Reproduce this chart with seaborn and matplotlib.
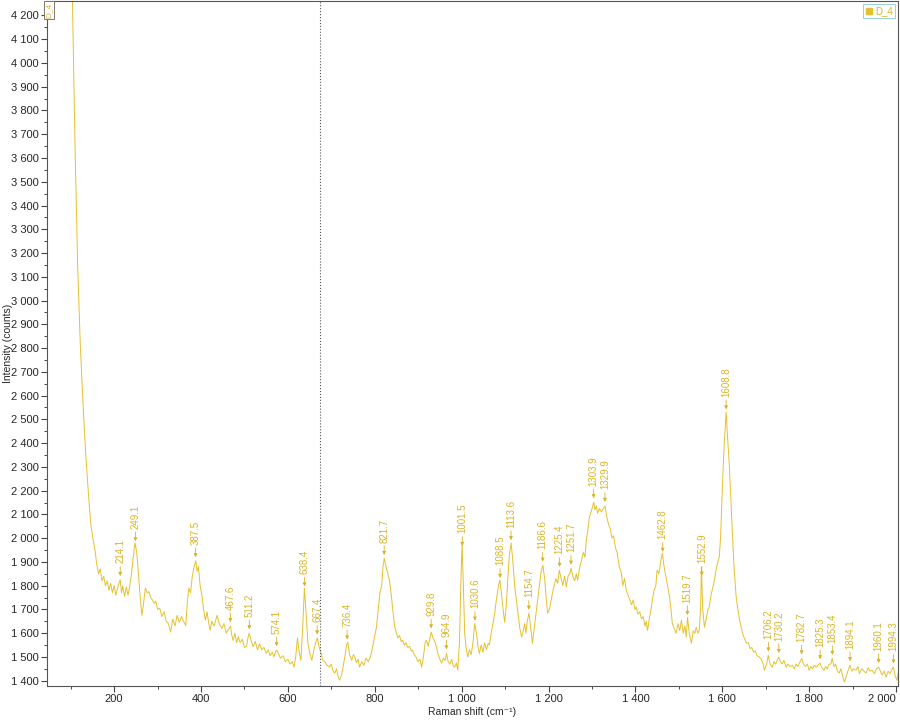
import numpy as np
import pandas as pd
import matplotlib
matplotlib.use("Agg")
import matplotlib.pyplot as plt
from matplotlib.ticker import MultipleLocator, FuncFormatter
from matplotlib.lines import Line2D
import seaborn as sns

# Raman spectrum (wavenumber, counts)
shift = [95, 104, 110, 116, 122, 128, 134, 140, 146, 151, 156, 160, 164, 168, 172, 176, 180, 184, 188, 192,
         196, 200, 204, 208, 212, 214, 217, 220, 224, 228, 232, 236, 240, 244, 248, 252, 256, 260, 264, 268,
         272, 276, 280, 284, 288, 292, 296, 300, 305, 310, 315, 320, 325, 330, 335, 340, 345, 350, 355, 360,
         365, 368, 372, 376, 380, 384, 388, 391, 394, 398, 402, 406, 410, 414, 418, 421, 425, 430, 437, 442,
         448, 453, 458, 463, 468, 471, 474, 478, 482, 486, 490, 495, 500, 505, 508, 511, 515, 520, 525, 530,
         535, 540, 545, 550, 555, 559, 564, 568, 572, 575, 579, 583, 589, 594, 600, 605, 610, 614, 618, 622,
         626, 630, 634, 638, 642, 646, 650, 655, 660, 664, 668, 672, 676, 680, 685, 690, 696, 700, 704, 708,
         712, 716, 719, 723, 727, 731, 735, 738, 742, 747, 751, 754, 758, 762, 765, 770, 775, 780, 785, 790,
         795, 800, 804, 808, 812, 816, 819, 822, 826, 830, 834, 838, 842, 846, 850, 853, 857, 861, 864, 868,
         872, 876, 880, 884, 887, 891, 895, 899, 904, 908, 912, 916, 919, 923, 927, 930, 934, 938, 942, 946,
         950, 954, 958, 962, 965, 969, 973, 977, 981, 984, 988, 991, 995, 998, 1001, 1004, 1007, 1010, 1014, 1018,
         1022, 1026, 1030, 1034, 1038, 1041, 1045, 1049, 1053, 1057, 1061, 1064, 1068, 1072, 1076, 1080, 1084, 1088, 1092, 1096,
         1099, 1103, 1107, 1110, 1114, 1118, 1122, 1126, 1130, 1134, 1138, 1142, 1145, 1148, 1151, 1155, 1159, 1163, 1167, 1171,
         1175, 1179, 1183, 1187, 1191, 1195, 1198, 1202, 1206, 1209, 1213, 1217, 1221, 1225, 1229, 1233, 1237, 1241, 1245, 1249,
         1252, 1256, 1260, 1264, 1267, 1271, 1276, 1280, 1284, 1287, 1291, 1294, 1298, 1301, 1304, 1307, 1310, 1313, 1317, 1322,
         1326, 1330, 1334, 1338, 1342, 1346, 1350, 1354, 1358, 1363, 1367, 1371, 1375, 1379, 1383, 1387, 1391, 1395, 1399, 1402,
         1406, 1410, 1414, 1418, 1422, 1425, 1428, 1432, 1436, 1439, 1443, 1447, 1450, 1454, 1458, 1462, 1466, 1470, 1474, 1478,
         1482, 1485, 1489, 1494, 1498, 1502, 1506, 1510, 1514, 1517, 1520, 1524, 1529, 1533, 1537, 1540, 1544, 1547, 1550, 1552,
         1555, 1559, 1563, 1567, 1570, 1574, 1578, 1582, 1586, 1589, 1593, 1596, 1600, 1604, 1609, 1612, 1616, 1620, 1623, 1627,
         1632, 1636, 1640, 1644, 1648, 1652, 1656, 1660, 1664, 1668, 1672, 1676, 1680, 1685, 1690, 1694, 1697, 1702, 1706, 1710,
         1715, 1719, 1723, 1727, 1730, 1734, 1738, 1742, 1747, 1751, 1756, 1761, 1766, 1770, 1774, 1778, 1783, 1787, 1791, 1796,
         1800, 1804, 1808, 1812, 1816, 1820, 1825, 1829, 1834, 1838, 1842, 1846, 1850, 1853, 1857, 1861, 1865, 1869, 1873, 1877,
         1881, 1885, 1889, 1894, 1898, 1902, 1908, 1912, 1916, 1921, 1926, 1931, 1936, 1940, 1945, 1950, 1955, 1960, 1964, 1968,
         1973, 1977, 1982, 1986, 1990, 1994, 1998, 2002, 2006]
counts = [5200, 4263, 3650, 3150, 2820, 2580, 2370, 2210, 2063, 2000, 1950, 1890, 1850, 1870, 1820, 1840, 1800, 1820, 1780, 1810,
          1770, 1800, 1760, 1790, 1815, 1825, 1770, 1800, 1755, 1795, 1760, 1800, 1850, 1920, 1980, 1940, 1850, 1750, 1675, 1730,
          1790, 1770, 1775, 1750, 1740, 1725, 1735, 1700, 1705, 1670, 1690, 1650, 1640, 1605, 1660, 1630, 1675, 1645, 1670, 1650,
          1632, 1720, 1790, 1770, 1840, 1880, 1905, 1860, 1880, 1800, 1760, 1700, 1655, 1690, 1640, 1612, 1650, 1630, 1675, 1640,
          1620, 1640, 1600, 1615, 1630, 1590, 1570, 1600, 1560, 1585, 1560, 1575, 1540, 1545, 1580, 1600, 1570, 1543, 1565, 1530,
          1555, 1530, 1540, 1515, 1530, 1505, 1520, 1500, 1525, 1528, 1510, 1495, 1505, 1480, 1490, 1470, 1480, 1457, 1500, 1580,
          1520, 1486, 1620, 1790, 1680, 1560, 1520, 1486, 1530, 1560, 1580, 1540, 1520, 1486, 1480, 1465, 1457, 1470, 1440, 1432,
          1450, 1415, 1402, 1420, 1457, 1500, 1550, 1562, 1510, 1486, 1510, 1500, 1475, 1490, 1457, 1480, 1465, 1495, 1480, 1500,
          1540, 1590, 1625, 1700, 1770, 1800, 1880, 1915, 1880, 1850, 1823, 1760, 1690, 1625, 1600, 1580, 1590, 1565, 1570, 1550,
          1560, 1540, 1545, 1525, 1528, 1510, 1500, 1480, 1490, 1457, 1500, 1560, 1570, 1545, 1580, 1604, 1580, 1565, 1543, 1510,
          1490, 1474, 1495, 1485, 1515, 1480, 1470, 1490, 1460, 1457, 1475, 1444, 1560, 1800, 1980, 1800, 1600, 1543, 1500, 1530,
          1510, 1560, 1641, 1600, 1540, 1515, 1550, 1520, 1560, 1530, 1557, 1550, 1600, 1640, 1684, 1740, 1790, 1823, 1760, 1690,
          1646, 1720, 1850, 1930, 1979, 1900, 1800, 1739, 1680, 1620, 1584, 1610, 1640, 1600, 1650, 1684, 1620, 1557, 1620, 1680,
          1739, 1800, 1860, 1886, 1830, 1740, 1684, 1700, 1740, 1768, 1800, 1830, 1810, 1865, 1830, 1800, 1840, 1794, 1840, 1850,
          1873, 1840, 1820, 1850, 1823, 1870, 1907, 1940, 1920, 1991, 2040, 2088, 2110, 2130, 2151, 2120, 2135, 2105, 2125, 2110,
          2125, 2135, 2090, 2060, 2040, 2000, 2010, 1960, 1940, 1878, 1860, 1800, 1830, 1780, 1760, 1740, 1720, 1740, 1700, 1710,
          1680, 1690, 1660, 1670, 1630, 1650, 1612, 1660, 1700, 1739, 1780, 1800, 1865, 1850, 1900, 1936, 1880, 1840, 1800, 1760,
          1700, 1641, 1620, 1600, 1640, 1610, 1655, 1600, 1630, 1584, 1667, 1600, 1557, 1610, 1600, 1625, 1600, 1612, 1700, 1878,
          1700, 1625, 1660, 1700, 1710, 1760, 1790, 1823, 1870, 1894, 1920, 2000, 2200, 2383, 2530, 2430, 2315, 2150, 2033, 1880,
          1752, 1700, 1655, 1620, 1590, 1575, 1557, 1560, 1535, 1540, 1520, 1525, 1505, 1500, 1490, 1470, 1444, 1470, 1507, 1470,
          1457, 1480, 1470, 1490, 1500, 1480, 1470, 1485, 1457, 1470, 1460, 1465, 1450, 1470, 1460, 1475, 1494, 1470, 1460, 1470,
          1444, 1460, 1450, 1465, 1457, 1465, 1474, 1455, 1444, 1460, 1450, 1470, 1470, 1494, 1460, 1470, 1440, 1432, 1450, 1420,
          1394, 1415, 1440, 1465, 1440, 1450, 1444, 1460, 1430, 1450, 1440, 1432, 1455, 1440, 1444, 1430, 1450, 1457, 1440, 1425,
          1440, 1415, 1440, 1430, 1445, 1457, 1420, 1402, 1440]

peaks = [214.1, 249.1, 387.5, 467.6, 511.2, 574.1, 638.4, 667.4, 736.4, 821.7, 929.8, 964.9,
         1001.5, 1030.6, 1088.5, 1113.6, 1154.7, 1186.6, 1225.4, 1251.7, 1303.9, 1329.9, 1462.8,
         1519.7, 1552.9, 1608.8, 1706.2, 1730.2, 1782.7, 1825.3, 1853.4, 1894.1, 1960.1, 1994.3]

df = pd.DataFrame({"Raman shift": shift, "Intensity": counts})

line_c = "#E5C12E"
text_c = "#D9B425"

sns.set_style("ticks")
plt.rcParams["font.family"] = ["Liberation Sans", "DejaVu Sans"]

fig, ax = plt.subplots(figsize=(9, 7.2), dpi=100)
fig.subplots_adjust(left=0.052, right=0.998, bottom=0.047, top=0.999)

sns.lineplot(data=df, x="Raman shift", y="Intensity", ax=ax, color=line_c,
             linewidth=0.7, estimator=None, sort=False)

ax.set_xlim(45, 2005)
ax.set_ylim(1377, 4262)

# peak labels with little arrows
for p in peaks:
    yp = np.interp(p, shift, counts)
    ax.annotate(f"{p:.1f}", xy=(p, yp), xytext=(0, 12), textcoords="offset points",
                rotation=90, ha="center", va="bottom", fontsize=7, color=text_c,
                arrowprops=dict(arrowstyle="-|>", color=text_c, lw=0.6,
                                mutation_scale=5, shrinkA=0, shrinkB=3))

# cursor line
ax.axvline(675, color="#555555", linestyle=":", linewidth=0.8)

# small boxed label clipped at the top-left
ax.text(50, 4255, "D_4", rotation=90, ha="center", va="top", fontsize=6, color=text_c,
        bbox=dict(boxstyle="square,pad=0.15", fc="white", ec="#777777", lw=0.7))

ax.xaxis.set_major_locator(MultipleLocator(200))
ax.xaxis.set_minor_locator(MultipleLocator(100))
ax.yaxis.set_major_locator(MultipleLocator(100))
ax.yaxis.set_minor_locator(MultipleLocator(50))
fmt = FuncFormatter(lambda v, pos: f"{int(round(v)):,}".replace(",", " "))
ax.xaxis.set_major_formatter(fmt)
ax.yaxis.set_major_formatter(fmt)
ax.tick_params(axis="both", which="major", labelsize=8, length=4, width=0.8, color="#444444", pad=2)
ax.tick_params(axis="both", which="minor", length=2.5, width=0.7, color="#444444")
for s in ax.spines.values():
    s.set_color("#555555")
    s.set_linewidth(0.8)

ax.set_xlabel("Raman shift (cm\u207b\u00b9)", fontsize=7.5)
ax.set_ylabel("Intensity (counts)", fontsize=7.5)
ax.xaxis.set_label_coords(0.5, -0.03)
ax.yaxis.set_label_coords(-0.040, 0.5)

handle = Line2D([], [], marker="s", linestyle="", color=line_c, markersize=4, label="D_4")
leg = ax.legend(handles=[handle], loc="upper right", fontsize=7, labelcolor=text_c,
                handletextpad=0.2, borderpad=0.25, handlelength=0.8, borderaxespad=0.3,
                fancybox=False, framealpha=1)
leg.get_frame().set_edgecolor("#9ccfdc")
leg.get_frame().set_linewidth(0.7)

# keep the last x tick label inside the figure
fig.canvas.draw()
for lab in ax.get_xticklabels():
    if lab.get_text() == "2 000":
        lab.set_horizontalalignment("right")

fig.savefig("out.png", dpi=100)
